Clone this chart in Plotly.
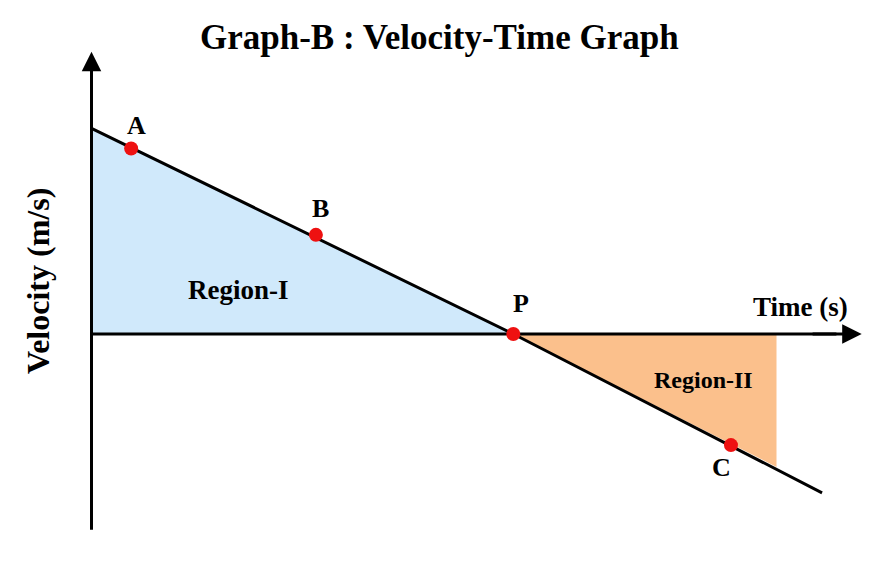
import plotly.graph_objects as go

# ---- data (time in s, velocity in m/s; arbitrary units) ----
line_t = [0.0, 5.0, 8.66]
line_v = [5.0, 0.0, -3.86]

point_names = ["A", "B", "P", "C"]
point_t = [0.47, 2.66, 5.0, 7.58]
point_v = [4.51, 2.41, 0.0, -2.70]

region1_t = [0.0, 0.0, 5.0]
region1_v = [5.0, 0.0, 0.0]
region2_t = [5.0, 8.12, 8.12]
region2_v = [0.0, 0.0, -3.23]

axis_t_max = 9.13
axis_v_max = 6.86
axis_v_min = -4.76

title = "Graph-B : Velocity-Time Graph"
x_title = "Time (s)"
y_title = "Velocity (m/s)"

FONT = "Liberation Serif"
W, H = 877, 585

fig = go.Figure()

# Region I (blue)
fig.add_trace(go.Scatter(x=region1_t + [region1_t[0]], y=region1_v + [region1_v[0]],
                         fill="toself", fillcolor="#d0e9fb", mode="lines",
                         line=dict(width=0), hoverinfo="skip"))
# Region II (orange)
fig.add_trace(go.Scatter(x=region2_t + [region2_t[0]], y=region2_v + [region2_v[0]],
                         fill="toself", fillcolor="#fbc08c", mode="lines",
                         line=dict(width=0), hoverinfo="skip"))

# Axes lines
fig.add_trace(go.Scatter(x=[0, 0], y=[axis_v_min, axis_v_max - 0.5], mode="lines",
                         line=dict(color="black", width=3), hoverinfo="skip"))
fig.add_trace(go.Scatter(x=[0, axis_t_max - 0.3], y=[0, 0], mode="lines",
                         line=dict(color="black", width=3), hoverinfo="skip"))

# Velocity line
fig.add_trace(go.Scatter(x=line_t, y=line_v, mode="lines",
                         line=dict(color="black", width=3), hoverinfo="skip"))

# Points
fig.add_trace(go.Scatter(x=point_t, y=point_v, mode="markers",
                         marker=dict(color="#ee1111", size=14), hoverinfo="skip"))

# Arrowheads
fig.add_annotation(x=0, y=axis_v_max, ax=0, ay=axis_v_max - 1.0, xref="x", yref="y",
                   axref="x", ayref="y", showarrow=True, arrowhead=2, arrowsize=1.3,
                   arrowwidth=3, arrowcolor="black", text="")
fig.add_annotation(x=axis_t_max, y=0, ax=axis_t_max - 0.6, ay=0, xref="x", yref="y",
                   axref="x", ayref="y", showarrow=True, arrowhead=2, arrowsize=1.3,
                   arrowwidth=3, arrowcolor="black", text="")

# Point labels
offsets = {"A": (5, 23), "B": (5, 26), "P": (8, 31), "C": (-9, -22)}
for n, t, v in zip(point_names, point_t, point_v):
    dx, dy = offsets[n]
    fig.add_annotation(x=t, y=v, text=f"<b>{n}</b>", showarrow=False, xshift=dx, yshift=dy,
                       xanchor="center", yanchor="middle",
                       font=dict(family=FONT, size=26, color="black"))

# Region labels
fig.add_annotation(x=1.74, y=1.06, text="<b>Region-I</b>", showarrow=False,
                   xanchor="center", yanchor="middle",
                   font=dict(family=FONT, size=27, color="black"))
fig.add_annotation(x=7.25, y=-1.12, text="<b>Region-II</b>", showarrow=False,
                   xanchor="center", yanchor="middle",
                   font=dict(family=FONT, size=24, color="black"))

# Axis titles
fig.add_annotation(x=8.40, y=0.66, text=f"<b>{x_title}</b>", showarrow=False,
                   xanchor="center", yanchor="middle",
                   font=dict(family=FONT, size=27, color="black"))
fig.add_annotation(x=38 / W, y=1 - 281 / H, xref="paper", yref="paper",
                   text=f"<b>{y_title}</b>", showarrow=False, textangle=-90,
                   xanchor="center", yanchor="middle",
                   font=dict(family=FONT, size=32, color="black"))

# Title
fig.add_annotation(x=439 / W, y=1 - 37 / H, xref="paper", yref="paper",
                   text=f"<b>{title}</b>", showarrow=False,
                   xanchor="center", yanchor="middle",
                   font=dict(family=FONT, size=35, color="black"))

px_per_t = 84.36
px_per_v = 41.14
x0_px, y0_px = 91.5, 334
fig.update_layout(
    width=W, height=H,
    margin=dict(l=0, r=0, t=0, b=0),
    paper_bgcolor="white", plot_bgcolor="white",
    showlegend=False,
    xaxis=dict(range=[-x0_px / px_per_t, (W - x0_px) / px_per_t], visible=False, fixedrange=True),
    yaxis=dict(range=[(y0_px - H) / px_per_v, y0_px / px_per_v], visible=False, fixedrange=True),
)

fig.write_html("out.html")
